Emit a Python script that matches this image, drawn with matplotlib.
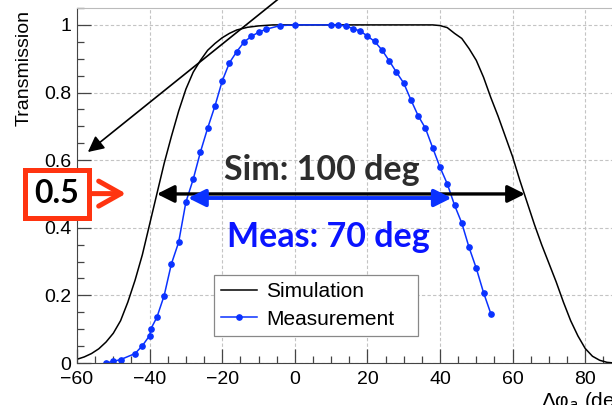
import matplotlib
matplotlib.use('Agg')
import matplotlib.pyplot as plt
from matplotlib.ticker import FixedLocator, MultipleLocator, FixedFormatter

# Simulated transmission vs. phase offset (deg)
SIM_X = [-60, -58, -56, -54, -52, -50, -48, -46, -44, -42, -40, -38, -36, -34,
         -32, -30, -28, -26, -24, -22, -20, -18, -16, -13, -10, -6,
         38, 40, 42, 44, 46, 48, 50, 52, 54, 56, 58, 60, 62, 64, 66, 68, 70,
         72, 74, 76, 78, 80, 82, 84, 86, 88]
SIM_Y = [0.011, 0.018, 0.028, 0.042, 0.062, 0.088, 0.125, 0.18, 0.245, 0.32,
         0.41, 0.50, 0.59, 0.67, 0.745, 0.81, 0.86, 0.895, 0.925, 0.945,
         0.962, 0.975, 0.985, 0.993, 0.997, 1.0,
         1.0, 0.998, 0.992, 0.975, 0.96, 0.93, 0.895, 0.845, 0.785, 0.73,
         0.67, 0.61, 0.54, 0.475, 0.41, 0.35, 0.295, 0.24, 0.18, 0.125, 0.08,
         0.043, 0.02, 0.008, 0.002, 0.0]

# Measured transmission
MEAS_X = [-52, -50, -48, -44, -42, -40, -39.6, -38, -36, -34, -32, -30, -28,
          -26, -24, -22, -20, -18, -16, -14, -12, -10, -8, -4, 0, 10, 12, 14,
          16, 18, 20, 22, 24, 26, 28, 30, 32, 34, 36, 38, 40, 42, 44, 46, 48,
          50, 52, 54]
MEAS_Y = [0.0, 0.005, 0.01, 0.028, 0.051, 0.081, 0.102, 0.135, 0.199, 0.293,
          0.357, 0.476, 0.543, 0.624, 0.695, 0.760, 0.834, 0.888, 0.921, 0.949,
          0.966, 0.978, 0.987, 0.998, 1.0, 1.0, 0.999, 0.997, 0.989, 0.982,
          0.967, 0.951, 0.926, 0.894, 0.860, 0.828, 0.778, 0.731, 0.694, 0.636,
          0.579, 0.530, 0.467, 0.414, 0.342, 0.280, 0.208, 0.146]

# Widths at half transmission
SIM_EDGES = [-38, 63.4]
MEAS_EDGES = [-29.4, 43.2]
HALF = 0.5

XTICKS = [-60, -40, -20, 0, 20, 40, 60, 80]
XTICK_LABELS = ['\u221260', '\u221240', '\u221220', '0', '20', '40', '60', '80']
YTICKS = [0, 0.2, 0.4, 0.6, 0.8, 1.0]
YTICK_LABELS = ['0', '0.2', '0.4', '0.6', '0.8', '1']

BLUE = '#0a32ff'
RED = '#ff3410'
BASE_FONT = 'Liberation Sans'
BOLD_FONT = 'Lato'

plt.rcParams['font.family'] = BASE_FONT

W, H = 612, 405
fig = plt.figure(figsize=(W / 100, H / 100), dpi=100)
ax = fig.add_axes([77 / W, (H - 363) / H, 544.5 / W, 355 / H])
ax.set_xlim(-60, 90)
ax.set_ylim(0, 1.05)

ax.grid(True, which='major', color='#c4c4c4', lw=0.8, ls=(0, (3, 2)))
ax.set_axisbelow(True)

ax.plot(SIM_X, SIM_Y, color='black', lw=1.1, label='Simulation')
ax.plot(MEAS_X, MEAS_Y, color=BLUE, lw=1.1, marker='o', ms=3.8,
        label='Measurement')

ax.xaxis.set_major_locator(FixedLocator(XTICKS))
ax.xaxis.set_major_formatter(FixedFormatter(XTICK_LABELS))
ax.yaxis.set_major_locator(FixedLocator(YTICKS))
ax.yaxis.set_major_formatter(FixedFormatter(YTICK_LABELS))
ax.xaxis.set_minor_locator(MultipleLocator(5))
ax.yaxis.set_minor_locator(MultipleLocator(0.05))
ax.tick_params(which='both', direction='in', top=False, right=False,
               color='#444444', labelsize=14)
ax.tick_params(which='major', length=10, width=0.9)
ax.tick_params(which='minor', length=5, width=0.9)
ax.tick_params(axis='x', pad=6)
ax.tick_params(axis='y', pad=4)
for side in ('left', 'bottom'):
    ax.spines[side].set_color('#444444')
ax.spines['top'].set_color('#bbbbbb')
ax.spines['right'].set_visible(False)

leg = ax.legend(loc='upper left', bbox_to_anchor=(0.2516, 0.0, 0.3747, 0.2479),
                mode='expand', borderaxespad=0, fontsize=15, fancybox=False,
                framealpha=1, edgecolor='#888888', handlelength=1.7,
                handletextpad=0.45, labelspacing=0.4, borderpad=0.35)
leg.get_frame().set_linewidth(0.9)

# half-width arrows
ax.annotate('', xy=(SIM_EDGES[0], HALF), xytext=(SIM_EDGES[1], HALF),
            arrowprops=dict(arrowstyle='<|-|>', color='black', lw=2.4,
                            mutation_scale=26, shrinkA=0, shrinkB=0))
ax.annotate('', xy=(MEAS_EDGES[0], HALF - 0.012),
            xytext=(MEAS_EDGES[1], HALF - 0.012),
            arrowprops=dict(arrowstyle='<|-|>', color=BLUE, lw=2.8,
                            mutation_scale=26, shrinkA=0, shrinkB=0))

ax.text(7.4, 0.571, 'Sim: 100 deg', fontfamily=BOLD_FONT, fontweight='bold',
        fontsize=24.5, color='#2d2d2d', ha='center', va='center')
ax.text(9.2, 0.373, 'Meas: 70 deg', fontfamily=BOLD_FONT, fontweight='bold',
        fontsize=24.5, color='#0a14ff', ha='center', va='center')

# long pointer arrow coming in from above the frame
ax.annotate('', xy=(-57, 0.624), xytext=(2, 1.133), annotation_clip=False,
            arrowprops=dict(arrowstyle='-|>', color='black', lw=1.2,
                            mutation_scale=24, shrinkA=0, shrinkB=0))

# boxed half-maximum marker left of the axis
ax.text(-65.6, 0.501, '0.5', fontfamily=BOLD_FONT, fontweight='bold',
        fontsize=23, color='black', ha='center', va='center', clip_on=False,
        bbox=dict(boxstyle='square,pad=0.3', facecolor='white',
                  edgecolor=RED, lw=3.6))
ax.annotate('', xy=(-46.5, 0.501), xytext=(-56.4, 0.501),
            annotation_clip=False,
            arrowprops=dict(arrowstyle='->,head_length=0.8,head_width=0.45',
                            color=RED, lw=3.6, mutation_scale=20,
                            shrinkA=0, shrinkB=0))

fig.text(24.5 / W, 1 - 10 / H, 'Transmission', rotation=90, ha='center',
         va='top', fontsize=14)
fig.text(541 / W, 1 - 390 / H, '\u0394\u03c6$_{a}$ (deg)', ha='left',
         va='top', fontsize=15)

fig.savefig('out.png', dpi=100)
